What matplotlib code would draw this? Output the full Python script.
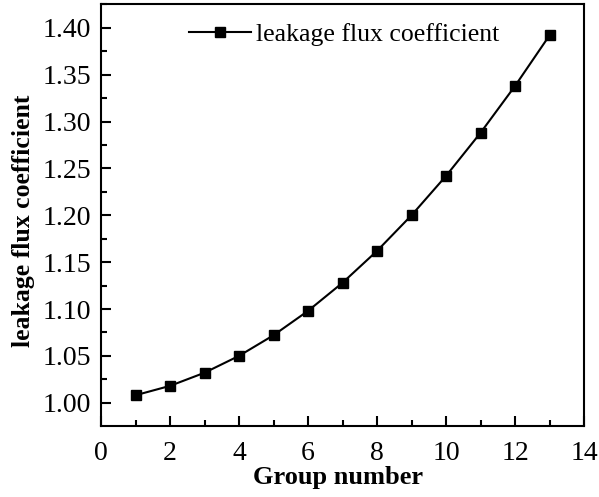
import matplotlib.pyplot as plt
from matplotlib.ticker import MultipleLocator

plt.rcParams['font.family'] = ['Liberation Serif', 'DejaVu Serif']

# номера групп и коэффициент рассеяния
group = [1, 2, 3, 4, 5, 6, 7, 8, 9, 10, 11, 12, 13]
coef = [1.008, 1.018, 1.032, 1.050, 1.072, 1.098, 1.128, 1.162,
        1.200, 1.242, 1.288, 1.338, 1.392]

fig = plt.figure(figsize=(5.99, 4.97), dpi=100)
ax = fig.add_axes([101 / 599, 1 - 425.7 / 497, 483 / 599, 421.7 / 497])

ax.plot(group, coef, color='black', lw=1.5, marker='s', ms=7.5,
        label='leakage flux coefficient')

ax.set_xlim(0, 14)
ax.set_ylim(0.9755, 1.4255)
ax.xaxis.set_major_locator(MultipleLocator(2))
ax.xaxis.set_minor_locator(MultipleLocator(1))
ax.yaxis.set_major_locator(MultipleLocator(0.05))
ax.yaxis.set_minor_locator(MultipleLocator(0.025))
ax.yaxis.set_major_formatter(plt.FormatStrFormatter('%.2f'))

ax.tick_params(which='both', direction='in', width=1.5, labelsize=20)
ax.tick_params(which='major', length=7, pad=7)
ax.tick_params(axis='x', which='major', pad=11)
ax.tick_params(which='minor', length=4.5)
for s in ax.spines.values():
    s.set_linewidth(1.5)

ax.set_xlabel('Group number', fontsize=19, fontweight='bold')
ax.set_ylabel('leakage flux coefficient', fontsize=18.5, fontweight='bold')
ax.xaxis.set_label_coords(0.49, -0.095)
ax.yaxis.set_label_coords(-0.136, 0.485)

ax.legend(loc='upper left', bbox_to_anchor=(0.134, 1.01), frameon=False,
          fontsize=18.5, handlelength=2.4, handletextpad=0.2)

fig.savefig('out.png', dpi=100)
